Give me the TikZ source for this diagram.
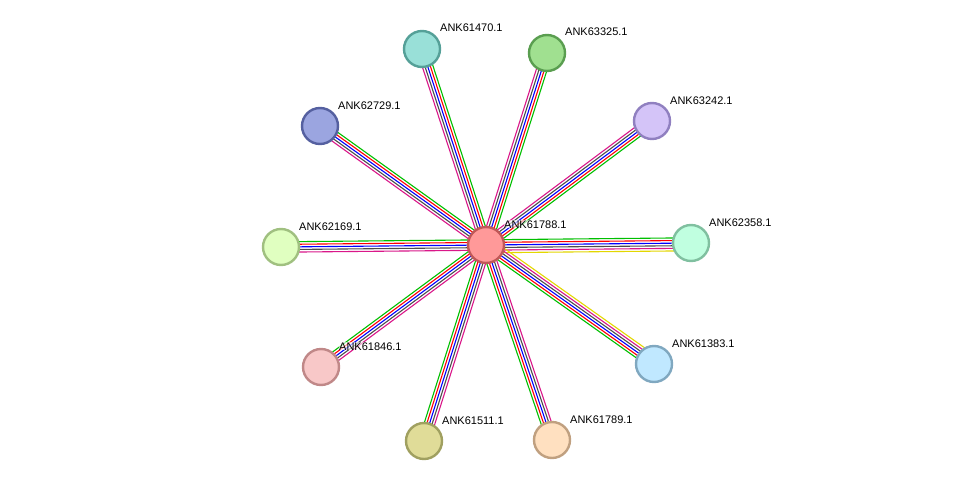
\documentclass[tikz,border=0pt]{standalone}
\usepackage{fontspec}
\setmainfont{Liberation Sans}
\usetikzlibrary{calc}
\tikzset{prot/.style={circle,minimum size=36pt,inner sep=0pt,line width=2.4pt},
lbl/.style={anchor=base west,font=\fontsize{11}{12}\selectfont,inner sep=0pt,fill=white,fill opacity=0.6,text opacity=1}}
\newcommand{\edgeline}[4]{\draw[#4,line width=1.1pt] ($(#1)!#3!90:(#2)$) -- ($(#2)!#3!-90:(#1)$);}
\newcommand{\stdedge}[2]{\edgeline{#1}{#2}{-5.2pt}{green!75!black}\edgeline{#1}{#2}{-2.6pt}{red}\edgeline{#1}{#2}{0pt}{blue}\edgeline{#1}{#2}{2.6pt}{black!70}\edgeline{#1}{#2}{5.2pt}{magenta!80!violet}}
\newcommand{\yedge}[2]{\stdedge{#1}{#2}\edgeline{#1}{#2}{7.8pt}{yellow!75!olive}}
\begin{document}
\begin{tikzpicture}[x=1pt,y=-1pt]
\useasboundingbox[fill=white] (0,0) rectangle (976,487);
\coordinate (c) at (486,245);
\coordinate (a1) at (422,49);
\coordinate (a2) at (547,53);
\coordinate (a3) at (652,121);
\coordinate (a4) at (320,126);
\coordinate (a5) at (281,247);
\coordinate (a6) at (691,243);
\coordinate (a7) at (321,367);
\coordinate (a8) at (654,364);
\coordinate (a9) at (424,441);
\coordinate (a10) at (552,440);
\foreach \n in {a1,a2,a3,a4,a5,a7,a9,a10} {\stdedge{c}{\n}}
\yedge{a6}{c}
\yedge{c}{a8}
\def\pn#1#2#3#4{\node[prot,fill=#2,draw=#3] (n#1) at (#1) {}; \node[lbl] (l#1) at ($(#1)+(18,-17)$) {#4};}
\definecolor{f0}{HTML}{FF9999}\definecolor{d0}{HTML}{C05858}
\definecolor{f1}{HTML}{99E0D8}\definecolor{d1}{HTML}{55A098}
\definecolor{f2}{HTML}{A0E090}\definecolor{d2}{HTML}{5A9E50}
\definecolor{f3}{HTML}{D4C4F8}\definecolor{d3}{HTML}{9080C0}
\definecolor{f4}{HTML}{9BA5E0}\definecolor{d4}{HTML}{5560A0}
\definecolor{f5}{HTML}{E0FFC0}\definecolor{d5}{HTML}{A0C080}
\definecolor{f6}{HTML}{C0FFE0}\definecolor{d6}{HTML}{80C0A0}
\definecolor{f7}{HTML}{F8C8C8}\definecolor{d7}{HTML}{C08888}
\definecolor{f8}{HTML}{C0E8FF}\definecolor{d8}{HTML}{80A8C0}
\definecolor{f9}{HTML}{E0DC98}\definecolor{d9}{HTML}{A0A060}
\definecolor{f10}{HTML}{FFE0C0}\definecolor{d10}{HTML}{C0A080}
\pn{c}{f0}{d0}{ANK61788.1}
\pn{a1}{f1}{d1}{ANK61470.1}
\pn{a2}{f2}{d2}{ANK63325.1}
\pn{a3}{f3}{d3}{ANK63242.1}
\pn{a4}{f4}{d4}{ANK62729.1}
\pn{a5}{f5}{d5}{ANK62169.1}
\pn{a6}{f6}{d6}{ANK62358.1}
\pn{a7}{f7}{d7}{ANK61846.1}
\pn{a8}{f8}{d8}{ANK61383.1}
\pn{a9}{f9}{d9}{ANK61511.1}
\pn{a10}{f10}{d10}{ANK61789.1}
\end{tikzpicture}
\end{document}
